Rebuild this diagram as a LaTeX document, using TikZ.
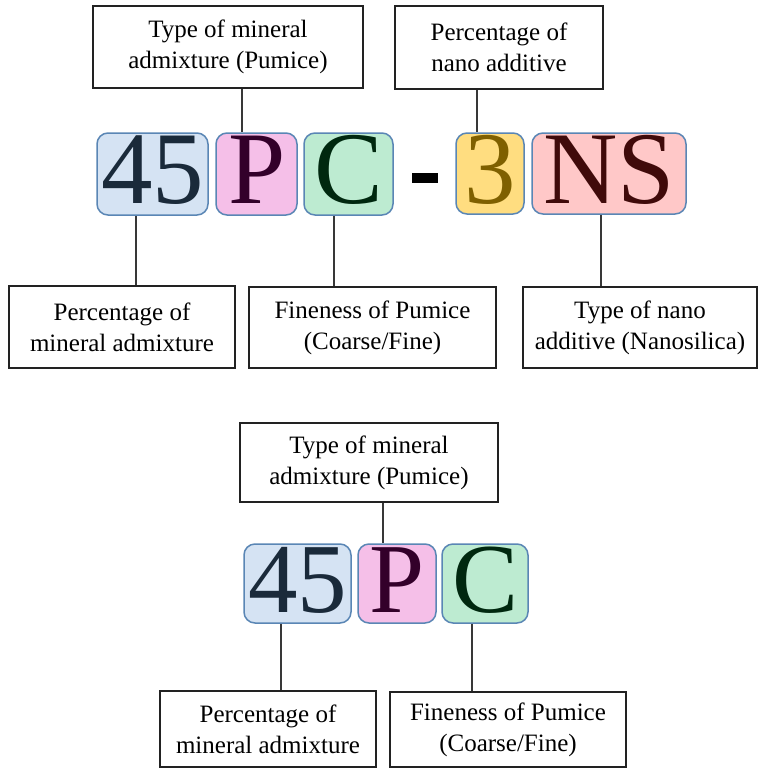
\documentclass[tikz,border=0pt]{standalone}
\usepackage{fontspec}
\setmainfont{Liberation Serif}
\definecolor{bfill}{HTML}{D5E3F3}
\definecolor{btext}{HTML}{1A2A3A}
\definecolor{pfill}{HTML}{F5BFE8}
\definecolor{ptext}{HTML}{33002A}
\definecolor{gfill}{HTML}{BDEBD1}
\definecolor{gtext}{HTML}{00280F}
\definecolor{yfill}{HTML}{FFDD80}
\definecolor{ytext}{HTML}{7F6000}
\definecolor{rfill}{HTML}{FFC8C8}
\definecolor{rtext}{HTML}{400A0A}
\definecolor{edge}{HTML}{5A86B5}
\definecolor{lbl}{HTML}{222222}
\tikzset{
  codebox/.style={draw=edge, line width=1.5pt, rounded corners=11pt, inner sep=0pt},
  bigA/.style={anchor=base, inner sep=0pt, font=\fontsize{103}{110}\selectfont},
  bigB/.style={anchor=base, inner sep=0pt, font=\fontsize{99}{106}\selectfont},
  lblbox/.style={draw=lbl, line width=1.8pt, inner sep=0pt, align=center, text=black,
    font=\fontsize{25}{31}\selectfont},
  conn/.style={draw=lbl!90, line width=1.3pt},
}
\newcommand{\boxat}[6]{% name, x1,y1,x2,y2, style
  \node[#6, minimum width={(#4-#2)*1pt}, minimum height={(#5-#3)*1pt}] (#1) at ({(#2+#4)/2},{(#3+#5)/2}) {};}
\newcommand{\lblat}[6]{% name, x1,y1,x2,y2, text
  \node[lblbox, minimum width={(#4-#2)*1pt}, minimum height={(#5-#3)*1pt}] (#1) at ({(#2+#4)/2},{(#3+#5)/2}) {#6};}
\begin{document}
\begin{tikzpicture}[x=1pt,y=-1pt]
\useasboundingbox[fill=white] (0,0) rectangle (768,769);
% ---------- top diagram ----------
\lblat{L1}{93}{6}{363}{88}{Type of mineral\\admixture (Pumice)}
\lblat{L2}{395}{6}{603}{89}{Percentage of\\nano additive}
\boxat{b45}{97}{133}{208}{215}{codebox, fill=bfill}
\boxat{bP}{216}{133}{297}{215}{codebox, fill=pfill}
\boxat{bC}{304}{133}{393}{215}{codebox, fill=gfill}
\node[fill=black, inner sep=0pt, minimum width=26pt, minimum height=10pt] (dash) at (425,178) {};
\boxat{b3}{456}{133}{524}{214}{codebox, fill=yfill}
\boxat{bNS}{532}{133}{686}{214}{codebox, fill=rfill}
\node[bigA, text=btext] (t45) at (152.5,203) {45};
\node[bigA, text=ptext] (tP) at (257,203) {P};
\node[bigA, text=gtext] (tC) at (349,203) {C};
\node[bigA, text=ytext] (t3) at (490,203) {3};
\node[bigA, text=rtext] (tNS) at (609,203) {NS};
\lblat{L3}{9}{286}{235}{368}{Percentage of\\mineral admixture}
\lblat{L4}{249}{287}{496}{368}{Fineness of Pumice\\(Coarse/Fine)}
\lblat{L5}{523}{287}{757}{368}{Type of nano\\additive (Nanosilica)}
\coordinate (c1) at (242,0);
\coordinate (c2) at (477,0);
\coordinate (c3) at (136,0);
\coordinate (c4) at (334,0);
\coordinate (c5) at (601,0);
\draw[conn] (L1.south -| c1) -- (bP.north -| c1);
\draw[conn] (L2.south -| c2) -- (b3.north -| c2);
\draw[conn] (b45.south -| c3) -- (L3.north -| c3);
\draw[conn] (bC.south -| c4) -- (L4.north -| c4);
\draw[conn] (bNS.south -| c5) -- (L5.north -| c5);
% ---------- bottom diagram ----------
\lblat{L6}{240}{423}{498}{502}{Type of mineral\\admixture (Pumice)}
\boxat{b45b}{244}{544}{351}{623}{codebox, fill=bfill}
\boxat{bPb}{358}{544}{436}{623}{codebox, fill=pfill}
\boxat{bCb}{442}{544}{528}{623}{codebox, fill=gfill}
\node[bigB, text=btext] (t45b) at (297.5,612) {45};
\node[bigB, text=ptext] (tPb) at (397.5,612) {P};
\node[bigB, text=gtext] (tCb) at (485.5,612) {C};
\lblat{L7}{160}{691}{376}{767}{Percentage of\\mineral admixture}
\lblat{L8}{390}{692}{626}{767}{Fineness of Pumice\\(Coarse/Fine)}
\coordinate (c6) at (383,0);
\coordinate (c7) at (281,0);
\coordinate (c8) at (472,0);
\draw[conn] (L6.south -| c6) -- (bPb.north -| c6);
\draw[conn] (b45b.south -| c7) -- (L7.north -| c7);
\draw[conn] (bCb.south -| c8) -- (L8.north -| c8);
\end{tikzpicture}
\end{document}
